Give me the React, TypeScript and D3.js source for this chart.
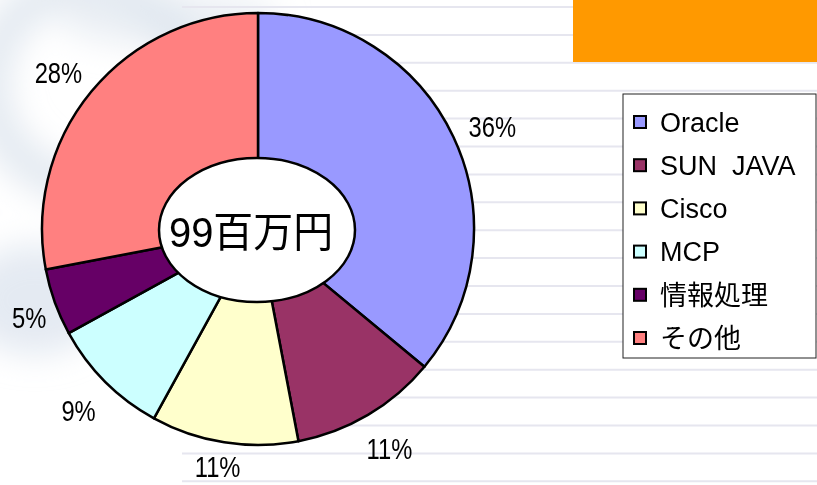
import React, { useEffect, useRef } from 'react';
import * as d3 from 'd3';

const categories = ['Oracle', 'SUN\u00a0\u00a0JAVA', 'Cisco', 'MCP', '情報処理', 'その他'];
const shares = [36, 11, 11, 9, 5, 28];
const colors = ['#9999FF', '#993366', '#FFFFCC', '#CCFFFF', '#660066', '#FF8080'];
const centerLabel = '99百万円';

export default function App() {
  const svgRef = useRef<SVGSVGElement>(null);

  useEffect(() => {
    document.body.style.margin = '0';
    if (!svgRef.current) return;
    const W = 817, H = 485;
    const cx = 258, cy = 229, R = 216;

    const svg = d3.select(svgRef.current);
    svg.selectAll('*').remove();
    svg.attr('width', W).attr('height', H);

    // background: white slide with faint rules and a blue swirl on the left
    svg.append('rect').attr('width', W).attr('height', H).attr('fill', '#ffffff');
    const defs = svg.append('defs');
    defs.append('filter').attr('id', 'blur').attr('x', '-50%').attr('y', '-50%')
      .attr('width', '200%').attr('height', '200%')
      .append('feGaussianBlur').attr('stdDeviation', 16);
    const swirl = svg.append('g').attr('filter', 'url(#blur)');
    swirl.append('circle').attr('cx', 90).attr('cy', 85).attr('r', 100)
      .attr('fill', 'none').attr('stroke', '#d5dfea').attr('stroke-width', 40).attr('opacity', 0.65);
    swirl.append('ellipse').attr('cx', 35).attr('cy', 300).attr('rx', 70).attr('ry', 55)
      .attr('fill', '#d8e1ec').attr('opacity', 0.7);
    swirl.append('ellipse').attr('cx', 170).attr('cy', 20).attr('rx', 110).attr('ry', 28)
      .attr('fill', '#dfe6ef').attr('opacity', 0.6);

    const ruleY = d3.range(7, H, 27.9);
    svg.append('g').selectAll('line').data(ruleY).enter().append('line')
      .attr('x1', 182).attr('x2', W).attr('y1', d => d).attr('y2', d => d)
      .attr('stroke', '#e6e6ef').attr('stroke-width', 2);

    // orange block top right
    svg.append('rect').attr('x', 573).attr('y', 0).attr('width', W - 573).attr('height', 62)
      .attr('fill', '#FF9900');

    // pie
    const pie = d3.pie<number>().sort(null).value(d => d);
    const arcs = pie(shares);
    const arc = d3.arc<d3.PieArcDatum<number>>().innerRadius(0).outerRadius(R);
    const total = d3.sum(shares);

    const g = svg.append('g').attr('transform', `translate(${cx},${cy})`);
    g.selectAll('path').data(arcs).enter().append('path')
      .attr('d', arc)
      .attr('fill', (d, i) => colors[i])
      .attr('stroke', '#000').attr('stroke-width', 2.5).attr('stroke-linejoin', 'round');

    // percentage labels: box pushed outward from an anchor just outside the rim,
    // kept inside the chart area like Excel does
    const r0 = 240, sx = 0.82;
    g.selectAll('text.pct').data(arcs).enter().append('text')
      .attr('class', 'pct')
      .attr('text-anchor', 'middle').attr('dy', '0.36em')
      .style('font-family', 'Liberation Sans, Arial, sans-serif')
      .style('font-size', '29px').attr('fill', '#000')
      .text(d => `${Math.round((d.data / total) * 100)}%`)
      .attr('transform', function (d) {
        const a = (d.startAngle + d.endAngle) / 2;
        const w = (this as SVGTextElement).getComputedTextLength() * sx;
        let x = Math.sin(a) * (r0 + w * 0.4);
        x = Math.max(x, -cx + 12 + w / 2);
        let y = 4 - Math.cos(a) * (r0 + 11);
        y = Math.min(y, H - cy - 18);
        return `translate(${x},${y}) scale(${sx},1)`;
      });

    // centre ellipse with total
    g.append('ellipse').attr('cx', -1).attr('cy', 1).attr('rx', 98).attr('ry', 72)
      .attr('fill', '#fff').attr('stroke', '#000').attr('stroke-width', 2.5);
    g.append('text')
      .attr('transform', 'translate(-7,3) scale(0.95,1)')
      .attr('text-anchor', 'middle').attr('dy', '0.36em')
      .style('font-family', 'Liberation Sans, Noto Sans CJK JP, sans-serif')
      .style('font-size', '42px').attr('fill', '#000')
      .text(centerLabel);

    // legend
    const lg = svg.append('g');
    lg.append('rect').attr('x', 623).attr('y', 94).attr('width', 193).attr('height', 264)
      .attr('fill', '#fff').attr('stroke', '#222').attr('stroke-width', 1);
    const rowY = d3.scalePoint<string>().domain(categories).range([122, 338]);
    const rows = lg.selectAll('g.item').data(categories).enter().append('g')
      .attr('class', 'item')
      .attr('transform', d => `translate(0,${rowY(d)})`);
    rows.append('rect').attr('x', 634).attr('y', -6).attr('width', 12).attr('height', 12)
      .attr('fill', (d, i) => colors[i]).attr('stroke', '#000').attr('stroke-width', 2);
    rows.append('text').attr('x', 660).attr('dy', '0.36em')
      .style('font-family', 'Liberation Sans, Noto Sans CJK JP, sans-serif')
      .style('font-size', '27px').attr('fill', '#000')
      .text(d => d);
  }, []);

  return <svg ref={svgRef} style={{ display: 'block' }}></svg>;
}
